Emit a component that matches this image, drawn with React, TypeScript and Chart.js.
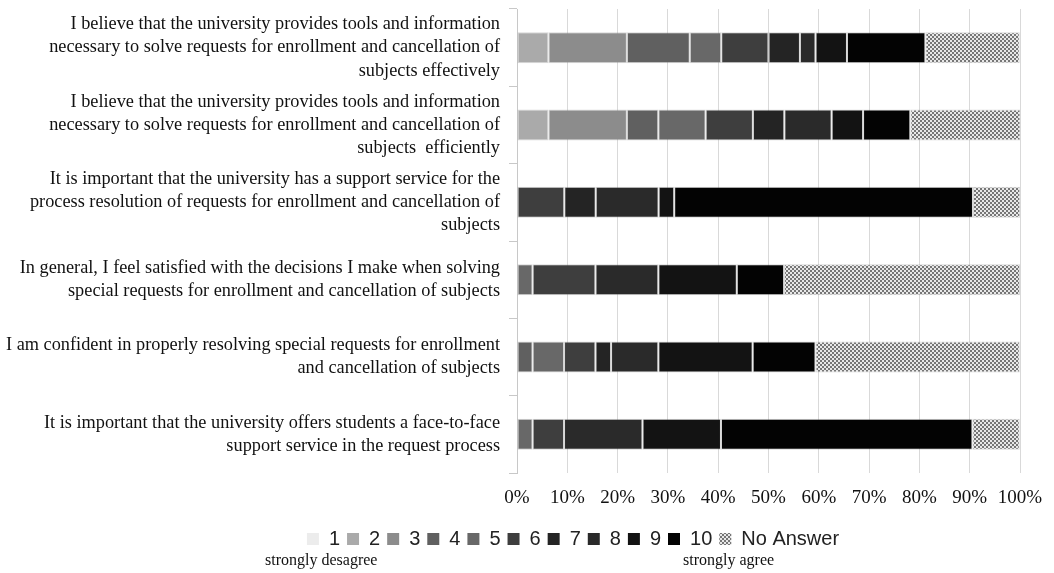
import React, { useEffect, useRef } from "react";
import { Chart, registerables } from "chart.js";

Chart.register(...registerables);

const categories: string[][] = [
  ["I believe that the university provides tools and information", "necessary to solve requests for enrollment and cancellation of", "subjects effectively"],
  ["I believe that the university provides tools and information", "necessary to solve requests for enrollment and cancellation of", "subjects  efficiently"],
  ["It is important that the university has a support service for the", "process resolution of requests for enrollment and cancellation of", "subjects"],
  ["In general, I feel satisfied with the decisions I make when solving", "special requests for enrollment and cancellation of subjects"],
  ["I am confident in properly resolving special requests for enrollment", "and cancellation of subjects"],
  ["It is important that the university offers students a face-to-face", "support service in the request process"],
];

const seriesNames = ["1", "2", "3", "4", "5", "6", "7", "8", "9", "10", "No Answer"];

const s1 = [0, 0, 0, 0, 0, 0];
const s2 = [6.25, 6.25, 0, 0, 0, 0];
const s3 = [15.6, 15.6, 0, 0, 0, 0];
const s4 = [12.5, 6.25, 0, 0, 3.1, 0];
const s5 = [6.25, 9.4, 0, 3.1, 6.25, 3.1];
const s6 = [9.4, 9.4, 9.4, 12.5, 6.25, 6.25];
const s7 = [6.25, 6.25, 6.25, 0, 3.1, 0];
const s8 = [3.1, 9.4, 12.5, 12.5, 9.4, 15.6];
const s9 = [6.25, 6.25, 3.1, 15.6, 18.75, 15.6];
const s10 = [15.6, 9.4, 59.4, 9.4, 12.5, 50];
const sNA = [18.75, 21.9, 9.4, 46.9, 40.6, 9.4];

const seriesValues = [s1, s2, s3, s4, s5, s6, s7, s8, s9, s10, sNA];

const xTicks = [0, 10, 20, 30, 40, 50, 60, 70, 80, 90, 100];

const seriesColors = ["#ececec", "#aaaaaa", "#8c8c8c", "#606060", "#686868", "#3e3e3e", "#242424", "#2a2a2a", "#131313", "#030303"];

function makePattern(): CanvasPattern | string {
  const c = document.createElement("canvas");
  c.width = 4;
  c.height = 4;
  const ctx = c.getContext("2d");
  if (!ctx) return "#aaa";
  ctx.fillStyle = "#e8e8e8";
  ctx.fillRect(0, 0, 4, 4);
  ctx.fillStyle = "#767676";
  ctx.fillRect(0, 0, 2, 2);
  ctx.fillRect(2, 2, 2, 2);
  const p = ctx.createPattern(c, "repeat");
  return p || "#aaa";
}

const shiftLegend = {
  id: "shiftLegend",
  afterLayout(chart: any) {
    const lg = chart.legend;
    if (!lg) return;
    const dx = 61;
    lg.left += dx;
    lg.right += dx;
  },
};

export default function App() {
  const ref = useRef<HTMLCanvasElement | null>(null);

  useEffect(() => {
    if (!ref.current) return;
    const pattern = makePattern();
    const datasets = seriesNames.map((name, i) => ({
      label: name,
      data: seriesValues[i],
      backgroundColor: i < 10 ? seriesColors[i] : pattern,
      borderColor: "rgba(140,140,140,0.35)",
      borderWidth: 1,
      borderSkipped: false as const,
      barPercentage: 0.8,
      categoryPercentage: 0.5,
    }));

    const chart = new Chart(ref.current, {
      type: "bar",
      data: { labels: categories, datasets },
      plugins: [shiftLegend],
      options: {
        animation: false,
        responsive: false,
        indexAxis: "y",
        layout: { padding: { top: 9, right: 34, bottom: 14, left: 4 } },
        scales: {
          x: {
            stacked: true,
            min: 0,
            max: 100,
            afterBuildTicks: (axis: any) => {
              axis.ticks = xTicks.map((v) => ({ value: v }));
            },
            afterFit: (axis: any) => {
              axis.height = 49;
              axis.paddingLeft = 0;
              axis.paddingRight = 0;
            },
            ticks: {
              callback: (v: any) => v + "%",
              color: "#111",
              font: { family: "'Liberation Serif', serif", size: 19 },
              padding: 14,
              maxRotation: 0,
              autoSkip: false,
            },
            grid: { color: "#d9d9d9", lineWidth: 1, drawTicks: false },
            border: { display: false },
          },
          y: {
            stacked: true,
            afterFit: (axis: any) => {
              axis.width = 513;
              axis.paddingTop = 0;
              axis.paddingBottom = 0;
            },
            ticks: {
              color: "#111",
              font: { family: "'Liberation Serif', serif", size: 18.3, lineHeight: 1.27 },
              padding: 9,
              autoSkip: false,
            },
            grid: { drawOnChartArea: false, color: "#c8c8c8", tickLength: 8 },
            border: { color: "#c8c8c8" },
          },
        },
        plugins: {
          legend: {
            position: "bottom",
            labels: {
              boxWidth: 12,
              boxHeight: 12,
              color: "#222",
              padding: 7,
              font: { family: "'Liberation Sans', Arial, sans-serif", size: 20 },
              useBorderRadius: false,
              generateLabels: (ch: any) =>
                ch.data.datasets.map((d: any, i: number) => ({
                  text: d.label,
                  fillStyle: d.backgroundColor,
                  strokeStyle: "rgba(0,0,0,0)",
                  lineWidth: 0,
                  hidden: false,
                  datasetIndex: i,
                  fontColor: "#222",
                })),
            },
          },
          tooltip: { enabled: false },
        },
      },
    });
    return () => chart.destroy();
  }, []);

  return (
    <div style={{ position: "fixed", left: 0, top: 0, width: 1054, height: 573, background: "#fff" }}>
      <canvas ref={ref} width={1054} height={573} style={{ display: "block" }} />
      <div
        style={{
          position: "absolute",
          left: 265,
          top: 551,
          fontFamily: "'Liberation Serif', serif",
          fontSize: 16,
          color: "#111",
          whiteSpace: "nowrap",
        }}
      >
        strongly desagree
      </div>
      <div
        style={{
          position: "absolute",
          left: 683,
          top: 551,
          fontFamily: "'Liberation Serif', serif",
          fontSize: 16,
          color: "#111",
          whiteSpace: "nowrap",
        }}
      >
        strongly agree
      </div>
    </div>
  );
}
